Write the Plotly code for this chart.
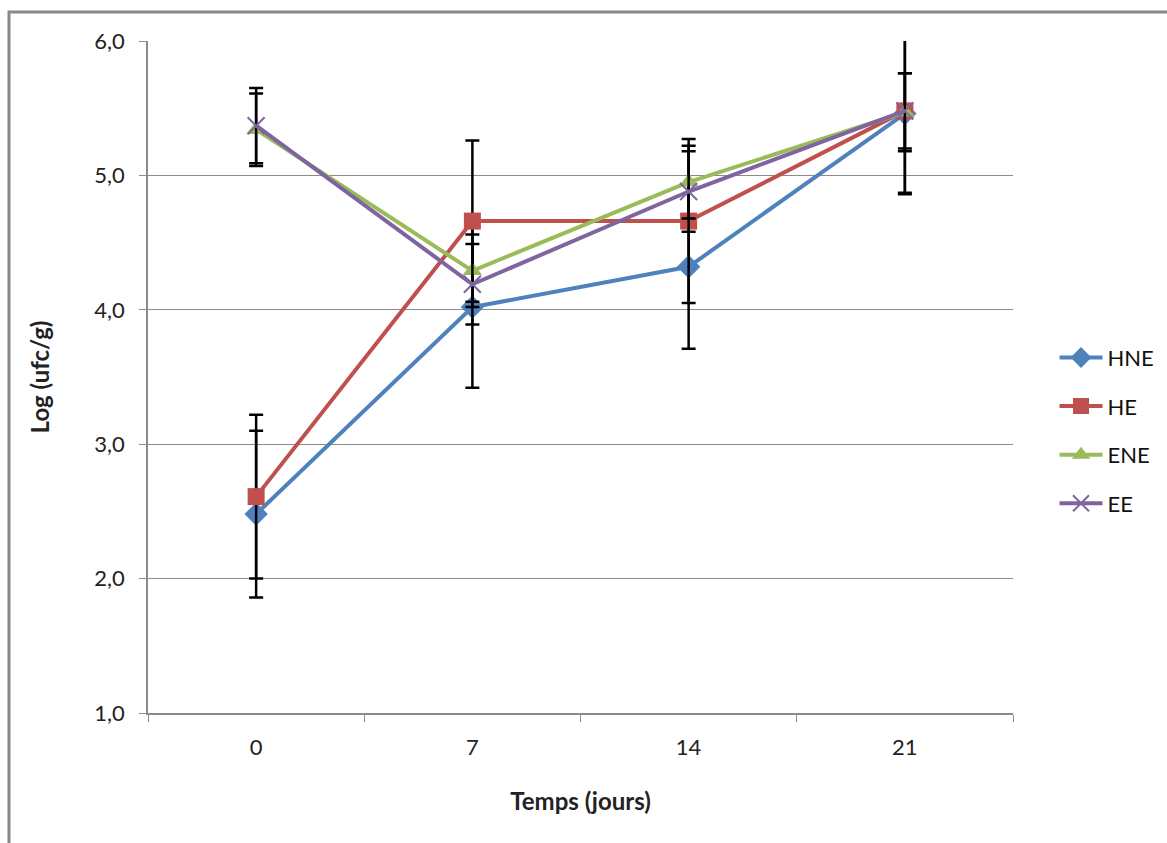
import plotly.graph_objects as go

# Sampling days (category axis)
days = ["0", "7", "14", "21"]

# Mean counts, log(ufc/g), and standard deviations per series
hne = [2.48, 4.02, 4.32, 5.46]
hne_sd = [0.62, 0.60, 0.61, 0.60]

he = [2.61, 4.66, 4.66, 5.48]
he_sd = [0.61, 0.60, 0.61, 0.61]

ene = [5.34, 4.29, 4.95, 5.47]
ene_sd = [0.27, 0.27, 0.27, 0.29]

ee = [5.37, 4.19, 4.88, 5.48]
ee_sd = [0.28, 0.30, 0.30, 0.28]

series = [
    ("HNE", hne, hne_sd, "#4F81BD", "diamond", 18),
    ("HE", he, he_sd, "#C0504D", "square", 17),
    ("ENE", ene, ene_sd, "#9BBB59", "triangle-up", 17),
    ("EE", ee, ee_sd, "#8064A2", "x-thin", 17),
]

FONT = "Lato, Carlito, 'Liberation Sans', sans-serif"
GRID = "#8C8C8C"

fig = go.Figure()
for i, (name, vals, sd, color, sym, size) in enumerate(series):
    marker = dict(symbol=sym, size=size, color=color)
    if sym == "x-thin":
        marker["line"] = dict(color=color, width=2)
    fig.add_trace(go.Scatter(
        x=days, y=vals, name=name, mode="lines+markers",
        line=dict(color=color, width=4),
        marker=marker,
        error_y=dict(type="data", array=sd, visible=True,
                     color="black", thickness=2.5, width=7),
        legendgroup=f"g{i}",
    ))

fig.update_layout(
    width=1167, height=843,
    margin=dict(l=148, r=154, t=41, b=130, autoexpand=False),
    paper_bgcolor="white", plot_bgcolor="white",
    separators=", ",
    font=dict(family=FONT, size=22, color="#222222"),
    showlegend=True,
    legend=dict(x=1.048, y=0.56, xanchor="left", yanchor="top",
                itemwidth=43, tracegroupgap=17,
                font=dict(size=22, color="#111111"),
                bgcolor="rgba(0,0,0,0)"),
    xaxis=dict(
        type="category", range=[-0.5, 3.5],
        showline=True, linecolor=GRID, linewidth=1.5,
        ticks="outside", tickson="boundaries", ticklen=7, tickcolor=GRID,
        showgrid=False, ticklabelstandoff=14,
        title=dict(text="<b>Temps (jours)</b>", standoff=34,
                   font=dict(size=24)),
    ),
    yaxis=dict(
        range=[1, 6], dtick=1, tickformat=".1f",
        showline=True, linecolor=GRID, linewidth=1.5,
        ticks="outside", ticklen=7, tickcolor=GRID,
        showgrid=True, gridcolor=GRID, gridwidth=1.2,
        zeroline=False, ticklabelstandoff=10,
        title=dict(text="<b>Log (ufc/g)</b>", standoff=38,
                   font=dict(size=24)),
    ),
    shapes=[dict(
        type="rect", xref="paper", yref="paper",
        x0=-0.1607, x1=1.2, y0=-0.25, y1=1.0432,
        line=dict(color="#888888", width=3), layer="below",
    )],
)

fig.write_html("out.html")
